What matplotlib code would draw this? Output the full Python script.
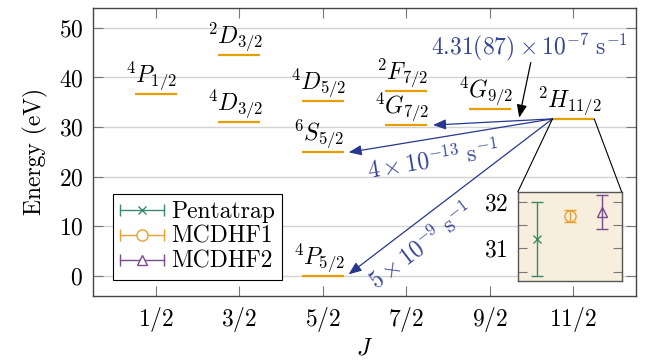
import matplotlib
matplotlib.use('Agg')
import matplotlib.pyplot as plt
from matplotlib.lines import Line2D
from matplotlib.legend_handler import HandlerBase
from matplotlib.patches import ConnectionPatch

plt.rcParams['font.family'] = 'cmr10'
plt.rcParams['mathtext.fontset'] = 'cm'
plt.rcParams['axes.unicode_minus'] = False
plt.rcParams['font.size'] = 17

# data
j_labels = ['1/2', '3/2', '5/2', '7/2', '9/2', '11/2']
level_names = [r'^4P_{1/2}', r'^2D_{3/2}', r'^4D_{3/2}', r'^4D_{5/2}', r'^6S_{5/2}',
               r'^4P_{5/2}', r'^2F_{7/2}', r'^4G_{7/2}', r'^4G_{9/2}', r'^2H_{11/2}']
level_j = [0, 1, 1, 2, 2, 2, 3, 3, 4, 5]
level_energy = [36.6, 44.5, 31.1, 35.2, 24.9, 0.0, 37.2, 30.4, 33.7, 31.65]

methods = ['Pentatrap', 'MCDHF1', 'MCDHF2']
h_energy = [31.2, 31.69, 31.78]
h_error = [0.8, 0.12, 0.36]

rates = [r'$4.31(87)\times10^{-7}\ \mathrm{s}^{-1}$', r'$4\times10^{-13}\ \mathrm{s}^{-1}$',
         r'$5\times10^{-9}\ \mathrm{s}^{-1}$']

orange = '#e69f00'
colors = ['#3a8a6c', '#e8a030', '#7a4a8c']
markers = ['x', 'o', '^']
blue = '#26378f'

fig = plt.figure(figsize=(6.49, 3.6), dpi=100)
ax = fig.add_axes([0.1433, 0.1786, 0.8367, 0.7992])
ax.set_xlim(-0.75, 5.75)
ax.set_ylim(-4, 54)
ax.set_xticks(range(len(j_labels)))
ax.set_xticklabels(['$%s$' % s for s in j_labels])
yt = [0, 10, 20, 30, 40, 50]
ax.set_yticks(yt)
ax.set_yticklabels(['$%d$' % v for v in yt])
ax.grid(axis='y', color='#d3d3d3', lw=1)
ax.set_axisbelow(True)
ax.tick_params(direction='in', length=7.5, width=0.8, color='#777777', pad=7,
               top=True, right=True)
for s in ax.spines.values():
    s.set_color('#444444')
    s.set_linewidth(1)
ax.set_ylabel('Energy (eV)', labelpad=8)
ax.set_xlabel('$J$')
ax.xaxis.set_label_coords(0.5, -0.145)

ax.hlines(level_energy, [j - 0.25 for j in level_j], [j + 0.25 for j in level_j],
          color=orange, lw=1.6, zorder=3)
for name, j, e in zip(level_names, level_j, level_energy):
    ax.annotate('$%s$' % name, (j, e), xytext=(-3, 1.5), textcoords='offset points',
                ha='center', va='bottom')

# transitions from 2H11/2
start = (4.75, 31.65)
akw = dict(arrowstyle='-|>,head_length=0.55,head_width=0.22', color=blue, lw=0.9,
           mutation_scale=14, shrinkA=0, shrinkB=0)
for tip in [(3.32, 30.4), (2.31, 24.9), (2.31, 0.3)]:
    ax.annotate('', xy=tip, xytext=start, arrowprops=akw, zorder=4)

ax.text(4.48, 46.0, rates[0], color='#34449a', ha='center', va='center')
ax.annotate('', xy=(4.352, 31.9), xytext=(4.49, 43.0),
            arrowprops=dict(arrowstyle='-|>,head_length=0.55,head_width=0.22', color='k',
                            lw=0.9, mutation_scale=14, shrinkA=0, shrinkB=0))
ax.text(3.325, 23.4, rates[1], color='#34449a', ha='center', va='center', rotation=9.3,
        rotation_mode='anchor')
ax.text(3.18, 6.0, rates[2], color='#34449a', ha='center', va='center', rotation=37.3,
        rotation_mode='anchor')


# legend with horizontal error bar handles
class HandlerHBar(HandlerBase):
    def create_artists(self, legend, orig_handle, xdescent, ydescent, width, height,
                       fontsize, trans):
        c = orig_handle.get_color()
        y = height / 2 - ydescent
        x0, x1 = -xdescent, width - xdescent
        line = Line2D([x0, x1], [y, y], color=c, lw=1)
        caps = Line2D([x0, x1], [y, y], ls='none', marker='|', ms=9, mew=1, color=c)
        mk = Line2D([(x0 + x1) / 2], [y], ls='none', marker=orig_handle.get_marker(),
                    ms=orig_handle.get_markersize(), mfc='white', mec=c, mew=1)
        for a in (line, caps, mk):
            a.set_transform(trans)
        return [line, caps, mk]


handles = [Line2D([], [], color=c, marker=m, ms=ms)
           for c, m, ms in zip(colors, markers, [6, 8, 7])]
leg = ax.legend(handles, methods, loc='lower left', bbox_to_anchor=(0.037, 0.055),
                borderaxespad=0, fancybox=False, edgecolor='k', framealpha=1,
                handlelength=1.85, handletextpad=0.3, labelspacing=0.12, borderpad=0.3,
                handler_map={Line2D: HandlerHBar()})
leg.get_frame().set_linewidth(0.8)

# inset
axins = fig.add_axes([0.798, 0.2194, 0.1598, 0.248])
axins.set_facecolor('#f7eedd')
axins.set_xlim(-0.59, 2.59)
axins.set_ylim(30.3, 32.21)
axins.set_xticks([])
axins.set_yticks([30.5, 31, 31.5, 32])
axins.set_yticklabels(['', '$31$', '', '$32$'])
axins.tick_params(direction='in', length=6.5, width=0.8, color='#777777', pad=7,
                  right=True)
for s in axins.spines.values():
    s.set_color('#555555')
    s.set_linewidth(1)
for i in range(len(methods)):
    axins.errorbar(i, h_energy[i], yerr=h_error[i], color=colors[i], marker=markers[i],
                   ms=[6, 8, 7][i], mfc='none', mew=1, capsize=4, lw=1, capthick=1)

for xa, xb in [(4.75, 0), (5.25, 1)]:
    con = ConnectionPatch(xyA=(xa, 31.65), coordsA=ax.transData, xyB=(xb, 1),
                          coordsB=axins.transAxes, color='k', lw=0.8)
    fig.add_artist(con)

fig.savefig('out.png', dpi=100)
